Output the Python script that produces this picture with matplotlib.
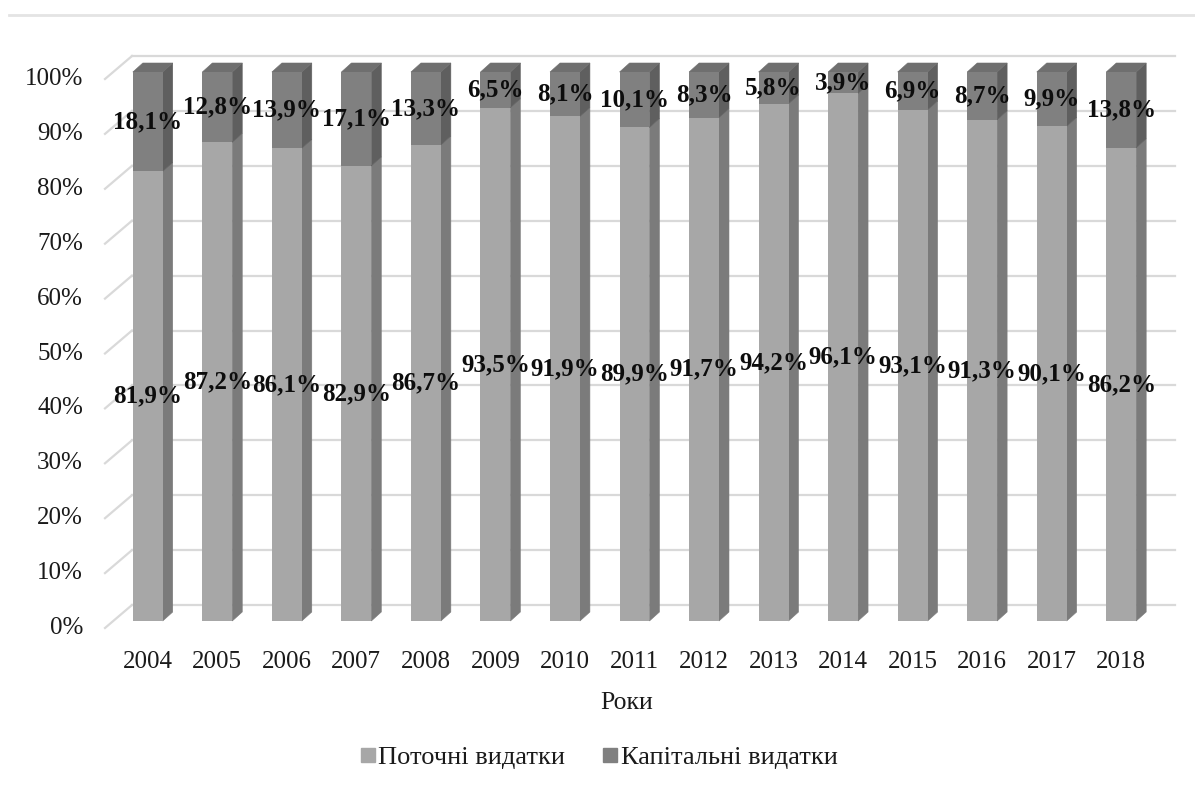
import matplotlib
matplotlib.use("Agg")
import matplotlib.pyplot as plt
from matplotlib.patches import Polygon
from matplotlib.lines import Line2D
from matplotlib.transforms import IdentityTransform, offset_copy
import numpy as np

# Structure of expenditures, %
years = ["2004", "2005", "2006", "2007", "2008", "2009", "2010", "2011",
         "2012", "2013", "2014", "2015", "2016", "2017", "2018"]
current = [81.9, 87.2, 86.1, 82.9, 86.7, 93.5, 91.9, 89.9, 91.7, 94.2,
           96.1, 93.1, 91.3, 90.1, 86.2]
capital = [18.1, 12.8, 13.9, 17.1, 13.3, 6.5, 8.1, 10.1, 8.3, 5.8,
           3.9, 6.9, 8.7, 9.9, 13.8]
yticks = list(range(0, 101, 10))
series_names = ["Поточні видатки", "Капітальні видатки"]

serif = ["Liberation Serif", "DejaVu Serif"]
plt.rcParams["font.family"] = serif

W, H = 1195, 787
fig = plt.figure(figsize=(W / 100, H / 100), dpi=100)
ax = fig.add_axes([113 / W, (H - 621) / H, (1156 - 113) / W, (621 - 72) / H])
ax.set_xlim(-0.5, len(years) - 0.5)
ax.set_ylim(0, 100)
ax.axis("off")

# pseudo-3D geometry (pixels)
bar_depth = np.array([10.0, 9.0])
back_off = np.array([19.0, 16.0])
front_off = np.array([-8.0, -7.0])
bar_w = 0.43

c_cur, c_cur_side = "#a7a7a7", "#7b7b7b"
c_cap, c_cap_side = "#808080", "#5f5f5f"
c_top = "#6f6f6f"
grid_c = "#d9d9d9"
text_c = "#1a1a1a"

fig.canvas.draw()
td = ax.transData


def px(x, y):
    return td.transform((x, y))


def poly(pts, color, z):
    p = Polygon(pts, closed=True, facecolor=color, edgecolor=color, lw=0.4,
                transform=IdentityTransform(), zorder=z, clip_on=False)
    ax.add_patch(p)


def line(p0, p1, z=1):
    l = Line2D([p0[0], p1[0]], [p0[1], p1[1]], color=grid_c, lw=1.6,
               transform=IdentityTransform(), zorder=z, clip_on=False)
    ax.add_line(l)


# back wall gridlines and left wall diagonals
x0, x1 = ax.get_xlim()
for v in yticks:
    a = px(x0, v)
    b = px(x1, v)
    line(a + back_off, b + back_off)
    line(a + front_off, a + back_off)

# bars
xs = np.arange(len(years))
ax.bar(xs, current, width=bar_w, color=c_cur, zorder=3, clip_on=False)
ax.bar(xs, capital, width=bar_w, bottom=current, color=c_cap, zorder=3,
       clip_on=False)
for i, (cu, ca) in enumerate(zip(current, capital)):
    xr = i + bar_w / 2
    xl = i - bar_w / 2
    # side faces
    p0, p1 = px(xr, 0), px(xr, cu)
    poly([p0, p1, p1 + bar_depth, p0 + bar_depth], c_cur_side, 2)
    p2 = px(xr, cu + ca)
    poly([p1, p2, p2 + bar_depth, p1 + bar_depth], c_cap_side, 2)
    # top face
    q0 = px(xl, cu + ca)
    poly([q0, p2, p2 + bar_depth, q0 + bar_depth], c_top, 2)

# value labels
lab_kw = dict(ha="center", va="center", fontsize=18, fontweight="bold",
              color="#0d0d0d", zorder=10, family=serif, clip_on=False)
for i, (cu, ca) in enumerate(zip(current, capital)):
    ax.text(i, cu / 2, f"{cu:.1f}%".replace(".", ","), **lab_kw)
    ax.text(i, cu + ca / 2, f"{ca:.1f}%".replace(".", ","), **lab_kw)

# y tick labels on the front plane
ytr = offset_copy(ax.transData, fig=fig, x=-30, y=-7, units="dots")
for v in yticks:
    ax.text(x0, v, f"{v}%", transform=ytr, ha="right", va="center",
            fontsize=18, color=text_c, clip_on=False)

# x tick labels
xtr = offset_copy(ax.transData, fig=fig, x=0, y=-41, units="dots")
for i, yr in enumerate(years):
    ax.text(i, 0, yr, transform=xtr, ha="center", va="center",
            fontsize=18, color=text_c, clip_on=False)

fig.text(627 / W, 1 - 703 / H, "Роки", ha="center", va="center",
         fontsize=18.5, color=text_c)

# legend
handles = [Line2D([], [], marker="s", linestyle="none", markersize=10,
                  markerfacecolor=c, markeredgecolor=c)
           for c in (c_cur, c_cap)]
fig.legend(handles, series_names, loc="center", ncol=2,
           bbox_to_anchor=(0.5, 1 - 757 / H), frameon=False, fontsize=19,
           handletextpad=0.0, columnspacing=1.3, handlelength=0.8,
           labelcolor=text_c)

# thin rule at the top
fig.add_artist(Line2D([9 / W, 1.0], [1 - 15 / H, 1 - 15 / H],
                      transform=fig.transFigure, color="#e4e4e4", lw=2))

fig.savefig("out.png", dpi=100, facecolor="white")
